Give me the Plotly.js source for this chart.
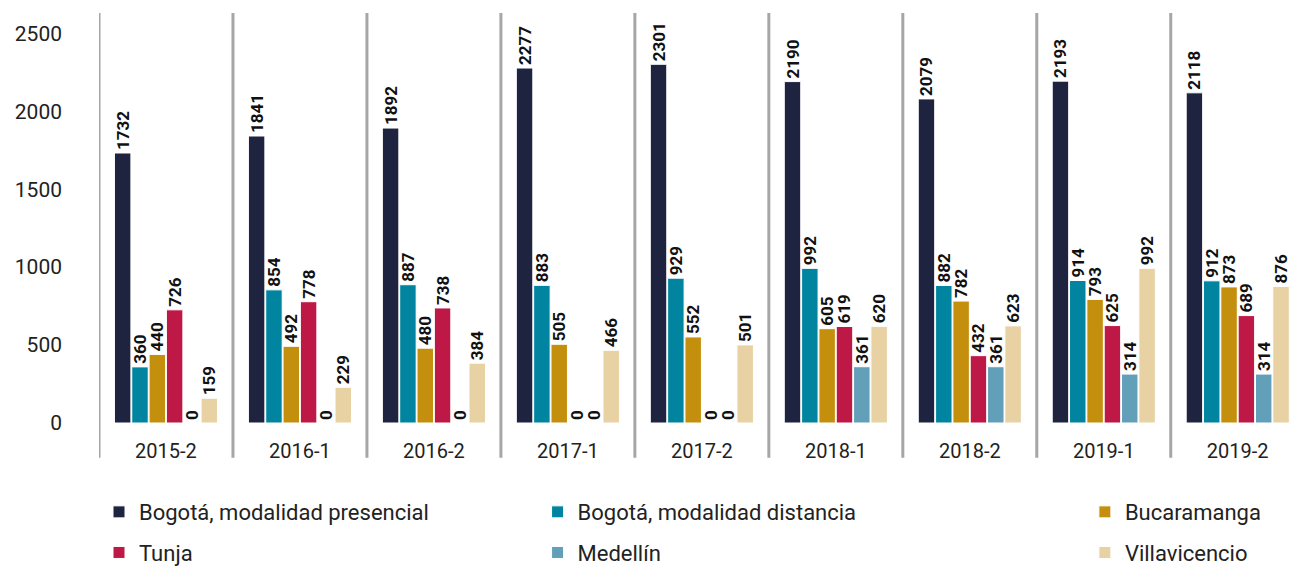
<!DOCTYPE html>
<html>
<head>
<meta charset="utf-8">
<script src="https://cdn.plot.ly/plotly-3.0.1.min.js"></script>
<style>html,body{margin:0;padding:0;background:#fff;}#chart{width:1294px;height:573px;}</style>
</head>
<body>
<div id="chart"></div>
<script>
const categories = ["2015-2","2016-1","2016-2","2017-1","2017-2","2018-1","2018-2","2019-1","2019-2"];
const seriesNames = ["Bogotá, modalidad presencial","Bogotá, modalidad distancia","Bucaramanga","Tunja","Medellín","Villavicencio"];
const bogotaPresencial = [1732,1841,1892,2277,2301,2190,2079,2193,2118];
const bogotaDistancia  = [360,854,887,883,929,992,882,914,912];
const bucaramanga      = [440,492,480,505,552,605,782,793,873];
const tunja            = [726,778,738,0,0,619,432,625,689];
const medellin         = [0,0,0,0,0,361,361,314,314];
const villavicencio    = [159,229,384,466,501,620,623,992,876];
const seriesValues = [bogotaPresencial,bogotaDistancia,bucaramanga,tunja,medellin,villavicencio];
const colors = ["#1E2340","#00849F","#C38F0C","#BE1846","#629FB9","#E8D1A2"];
const legendIds = ["legend","legend2","legend3","legend","legend2","legend3"];

const traces = seriesValues.map((vals,i)=>({
  type:'bar',
  name: seriesNames[i],
  x: categories,
  y: vals,
  text: vals.map(v=>String(v)),
  textposition:'outside',
  textangle:-90,
  constraintext:'none',
  cliponaxis:false,
  textfont:{family:'Roboto, sans-serif', size:17, color:'#111', weight:700},
  marker:{color:colors[i], line:{color:'#ffffff', width:1}},
  legend: legendIds[i],
  legendgroup: 'g'+i,
  hoverinfo:'x+y+name'
}));

const shapes = [];
for (let k=0;k<categories.length;k++){
  shapes.push({type:'line', xref:'x', yref:'paper', x0:k-0.5, x1:k-0.5, y0:-0.085, y1:1,
    line:{color:'#A6A6A6', width:3}});
}

const legendBase = {
  orientation:'v', xanchor:'left', yanchor:'top', y:-0.166,
  font:{family:'Roboto, sans-serif', size:22, color:'#222'},
  bgcolor:'rgba(0,0,0,0)', tracegroupgap:9, itemwidth:30,
  traceorder:'grouped'
};

const layout = {
  width:1294, height:573,
  margin:{l:99, r:0, t:13, b:150, autoexpand:false},
  paper_bgcolor:'#fff', plot_bgcolor:'#fff',
  barmode:'group', bargap:0.224, bargroupgap:0.05,
  font:{family:'Roboto, sans-serif', color:'#222'},
  xaxis:{type:'category', range:[-0.5, 8.42], showgrid:false, zeroline:false, showline:false,
    ticks:'', tickfont:{size:20, color:'#222'}, ticklabelstandoff:14, fixedrange:true, automargin:false},
  yaxis:{range:[0,2630], tickvals:[0,500,1000,1500,2000,2500], showgrid:false, zeroline:false,
    showline:false, ticks:'', tickfont:{size:21, color:'#222'}, ticklabelstandoff:36, fixedrange:true, automargin:false},
  shapes: shapes,
  showlegend:true,
  legend: Object.assign({}, legendBase, {x:0.0}),
  legend2: Object.assign({}, legendBase, {x:0.367}),
  legend3: Object.assign({}, legendBase, {x:0.825})
};

Plotly.newPlot('chart', traces, layout, {displayModeBar:false, staticPlot:true});
</script>
</body>
</html>
